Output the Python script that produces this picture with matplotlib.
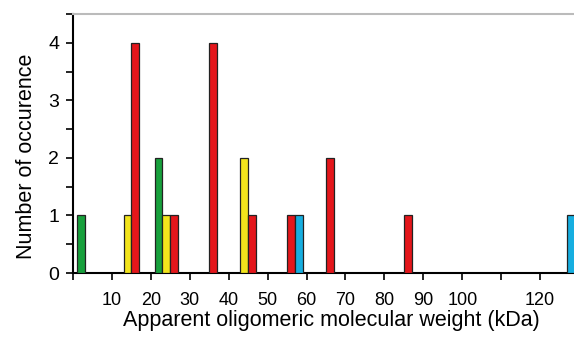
import numpy as np
import matplotlib.pyplot as plt
from matplotlib.ticker import MultipleLocator

plt.rcParams['font.family'] = ['Liberation Sans', 'DejaVu Sans']

# bins of 10 kDa, counts per colour group
bin_start = np.arange(0, 130, 10)
green = [1, 0, 2, 0, 0, 0, 0, 0, 0, 0, 0, 0, 0]
yellow = [0, 1, 1, 0, 2, 0, 0, 0, 0, 0, 0, 0, 0]
red = [0, 4, 1, 4, 1, 1, 2, 0, 1, 0, 0, 0, 0]
blue = [0, 0, 0, 0, 0, 1, 0, 0, 0, 0, 0, 0, 1]
tick_labels = ['', '10', '20', '30', '40', '50', '60', '70', '80', '90', '100', '', '120']

series = [(green, '#17a03c', 2), (yellow, '#f2e41c', 4),
          (red, '#e4161b', 6), (blue, '#16aee0', 8)]

fig = plt.figure(figsize=(5.74, 3.43), dpi=100)
ax = fig.add_axes([0.127, 0.204, 0.873, 0.755])

for vals, col, off in series:
    vals = np.array(vals)
    keep = vals > 0
    ax.bar(bin_start[keep] + off, vals[keep], width=2, color=col,
           edgecolor='#222222', linewidth=0.9, zorder=3)

ax.set_xlim(0, 128.7)
ax.set_ylim(0, 4.5)
ax.set_xticks(bin_start)
ax.set_xticklabels(tick_labels, fontsize=13)
ax.set_yticks([0, 1, 2, 3, 4])
ax.set_yticklabels(['0', '1', '2', '3', '4'])
ax.yaxis.set_minor_locator(MultipleLocator(0.5))
ax.tick_params(axis='y', which='both', length=5, width=1.2, labelsize=14, pad=5)
ax.tick_params(axis='x', length=5, width=1.2, pad=9)

ax.spines['right'].set_visible(False)
ax.spines['top'].set_color('#bbbbbb')
ax.spines['top'].set_linewidth(1.5)
ax.spines['left'].set_linewidth(1.5)
ax.spines['bottom'].set_linewidth(1.5)

ax.set_xlabel('Apparent oligomeric molecular weight (kDa)', fontsize=15.5)
ax.set_ylabel('Number of occurence', fontsize=15.5)
ax.xaxis.set_label_coords(0.515, -0.143)
ax.yaxis.set_label_coords(-0.072, 0.45)

fig.savefig('out.png', dpi=100)
